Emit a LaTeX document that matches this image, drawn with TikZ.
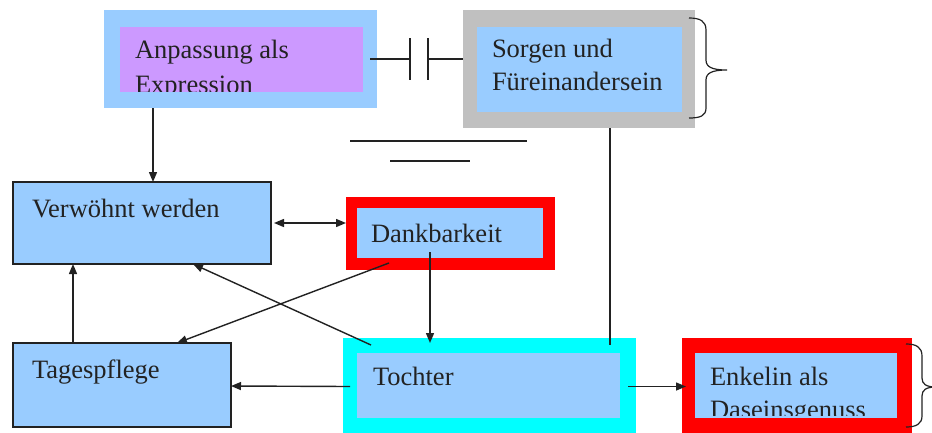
\documentclass[tikz,border=0pt]{standalone}
\usepackage{fontspec}
\setmainfont{Liberation Serif}
\usetikzlibrary{arrows.meta}
\definecolor{boxblue}{HTML}{99CCFF}
\definecolor{boxlilac}{HTML}{CC99FF}
\definecolor{framegray}{HTML}{C0C0C0}
\definecolor{framered}{HTML}{FF0000}
\definecolor{framecyan}{HTML}{00FFFF}
\definecolor{ink}{HTML}{222222}

\begin{document}
\begin{tikzpicture}[x=1pt,y=-1pt,
  panel/.style={rectangle,inner sep=0pt,outer sep=0pt},
  framed/.style={panel,draw=ink,line width=1.1pt,fill=boxblue},
  lbl/.style={anchor=base west,inner sep=0pt,outer sep=0pt,
    font=\fontsize{26.5}{32}\selectfont,text=ink},
  conn/.style={draw=ink,line width=1.4pt},
  arr/.style={conn,-{Triangle[length=10pt,width=8pt]}},
  dblarr/.style={conn,{Triangle[length=10pt,width=8pt]}-{Triangle[length=10pt,width=8pt]}},
  brace/.style={draw=ink,line width=1.2pt}]

\useasboundingbox (0,0) rectangle (932,432);
\clip (0,0) rectangle (932,432);
\fill[white] (0,0) rectangle (932,432);

% Anpassung als Expression
\node[panel,fill=boxblue,minimum width=273pt,minimum height=98pt] (anpO) at (240.5,59) {};
\node[panel,fill=boxlilac,minimum width=243pt,minimum height=65pt] (anpI) at (241.5,59.5) {};
\node[lbl] (anpT1) at (135,58) {Anpassung als};
\begin{scope}
  \clip ([yshift=1pt]anpI.south west) rectangle (anpI.north east);
  \node[lbl] (anpT2) at (135,93) {Expression};
\end{scope}

% Sorgen und Fueinandersein
\node[panel,fill=framegray,minimum width=232pt,minimum height=118pt] (sorO) at (579,69) {};
\node[panel,fill=boxblue,minimum width=205pt,minimum height=85pt] (sorI) at (579.5,69.5) {};
\node[lbl] (sorT1) at (492,57) {Sorgen und};
\node[lbl] (sorT2) at (492,90) {Füreinandersein};

% Verwoehnt werden
\node[framed,minimum width=258pt,minimum height=82pt] (verw) at (142,223) {};
\node[lbl] (verwT) at (32,217) {Verwöhnt werden};

% Dankbarkeit
\node[panel,fill=framered,minimum width=209pt,minimum height=73pt] (dankO) at (450.5,233.5) {};
\node[panel,fill=boxblue,minimum width=186pt,minimum height=50pt] (dankI) at (450,233) {};
\node[lbl] (dankT) at (371,242) {Dankbarkeit};

% Tagespflege
\node[framed,minimum width=218pt,minimum height=84pt] (tage) at (122,385) {};
\node[lbl] (tageT) at (32,378) {Tagespflege};

% Tochter
\node[panel,fill=framecyan,minimum width=293pt,minimum height=109pt] (tochO) at (489.5,392.5) {};
\node[panel,fill=boxblue,minimum width=263pt,minimum height=65pt] (tochI) at (488.5,385.5) {};
\node[lbl] (tochT) at (373,385) {Tochter};

% Enkelin als Daseinsgenuss
\node[panel,fill=framered,minimum width=230pt,minimum height=109pt] (enkO) at (797,392.5) {};
\node[panel,fill=boxblue,minimum width=202pt,minimum height=65pt] (enkI) at (796,385.5) {};
\node[lbl] (enkT1) at (710,385) {Enkelin als};
\begin{scope}
  \clip ([yshift=3pt]enkI.south west) rectangle (enkI.north east);
  \node[lbl] (enkT2) at (710,418) {Daseinsgenuss};
\end{scope}

% capacitor-like link between the two top boxes
\coordinate (capA) at (410,59);
\coordinate (capB) at (428,59);
\draw[conn] ([xshift=-7pt]anpO.east) -- (capA);
\draw[conn] ([yshift=21pt]capA) -- ([yshift=-21pt]capA);
\draw[conn] ([yshift=21pt]capB) -- ([yshift=-21pt]capB);
\draw[conn] (capB) -- (capB -| sorO.west);

% two loose horizontal rules
\coordinate (ruleA1) at (350,141);
\coordinate (ruleA2) at (527,141);
\coordinate (ruleB1) at (390,161);
\coordinate (ruleB2) at (470,161);
\draw[conn] (ruleA1) -- (ruleA2);
\draw[conn] (ruleB1) -- (ruleB2);

% braces
\draw[brace] (689,18) .. controls (700,18) and (706,21) .. (706,30) -- (706,60)
  .. controls (706,67) and (712,70) .. (727,70)
  .. controls (712,70) and (706,73) .. (706,80) -- (706,108)
  .. controls (706,116) and (700,118) .. (689,118);
\draw[brace] (906,344) .. controls (916,344) and (922,347) .. (922,356) -- (922,378)
  .. controls (922,384) and (926,387) .. (936,387)
  .. controls (926,387) and (922,390) .. (922,396) -- (922,416)
  .. controls (922,424) and (916,427) .. (906,427);

% connectors
\draw[arr] ([xshift=49pt]anpO.south west) -- ([xshift=140pt]verw.north west);
\draw[dblarr] ([xshift=3pt]verw.east) -- (verw.east -| dankO.west);
\coordinate (d2t) at ([xshift=-20pt,yshift=6pt]dankI.south);
\draw[arr] (d2t) -- ([yshift=-5pt]d2t |- tochO.north);
\draw[arr] ([xshift=32pt,yshift=-5pt]dankI.south west) -- ([xshift=164pt]tage.north west);
\draw[arr] ([xshift=28pt,yshift=-7pt]tochO.north west) -- ([xshift=180pt]verw.south west);
\draw[arr] ([xshift=-49pt]tage.north) -- ([xshift=60pt]verw.south west);
\draw[arr] ([xshift=-7pt,yshift=-1pt]tochI.west) -- ([yshift=-1pt]tage.east);
\draw[arr] ([xshift=8pt,yshift=-1pt]tochI.east) -- ([xshift=4pt,yshift=-1pt]tochI.east -| enkO.west);
\draw[conn] ([xshift=31pt]sorO.south) -- ([xshift=267pt,yshift=-7pt]tochO.north west);

\end{tikzpicture}
\end{document}
